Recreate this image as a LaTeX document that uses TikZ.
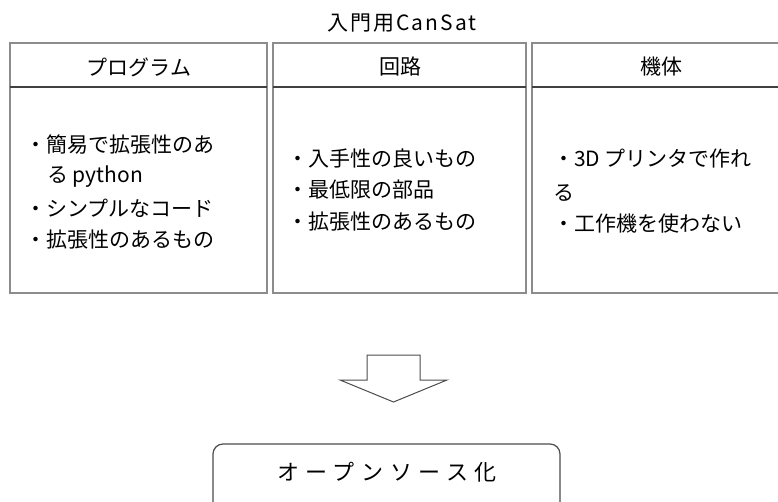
\documentclass[tikz,border=0pt]{standalone}
\usepackage{fontspec}
\newfontfamily\jp{Noto Sans CJK JP}
\begin{document}
\begin{tikzpicture}[x=1pt,y=-1pt,
  frame/.style={draw=black!45,line width=1.6pt},
  sepline/.style={draw=black!75,line width=2pt},
  head/.style={font=\jp\fontsize{21}{24}\selectfont,inner sep=0pt,text=black},
  item/.style={font=\jp\fontsize{21}{24}\selectfont,inner sep=0pt,anchor=west,text=black},
  blockarrow/.style={draw=black!70,line width=1pt,fill=white,line join=miter},
  result/.style={draw=black!70,line width=1.2pt,rounded corners=10pt}]
\useasboundingbox (0,0) rectangle (778,502);
\clip (0,0) rectangle (778,502);
% title
\node[font=\jp\fontsize{21}{24}\selectfont\addfontfeature{LetterSpace=10},inner sep=0pt,text=black] (title) at (402,23) {入門用CanSat};
% boxes
\draw[frame] (10,43) rectangle (267,293);
\draw[frame] (273,43) rectangle (526,293);
\draw[frame] (532,43) rectangle (790,293);
\draw[sepline] (10,87) -- (267,87);
\draw[sepline] (273,87) -- (526,87);
\draw[sepline] (532,87) -- (790,87);
% headers
\node[head] (h1) at (139,67) {プログラム};
\node[head] (h2) at (400,67) {回路};
\node[head] (h3) at (661,67) {機体};
% column 1
\node[item] (a1) at (25,145) {・簡易で拡張性のあ};
\node[item] (a2) at (47,177) {る python};
\node[item] (a3) at (25,208) {・シンプルなコード};
\node[item] (a4) at (25,240) {・拡張性のあるもの};
% column 2
\node[item] (b1) at (287,159) {・入手性の良いもの};
\node[item] (b2) at (287,190) {・最低限の部品};
\node[item] (b3) at (287,222) {・拡張性のあるもの};
% column 3
\node[item] (c1) at (553,159) {・3D プリンタで作れ};
\node[item] (c2) at (553,193) {る};
\node[item] (c3) at (553,224) {・工作機を使わない};
% block arrow
\draw[blockarrow] (367,355) -- (420,355) -- (420,380) -- (447,380) -- (393.5,402) -- (340,380) -- (367,380) -- cycle;
% result box
\draw[result] (213,444) rectangle (560,530);
\node[font=\jp\fontsize{22}{24}\selectfont\addfontfeature{LetterSpace=30},inner sep=0pt,text=black] (res) at (387,472) {オープンソース化};
\end{tikzpicture}
\end{document}
